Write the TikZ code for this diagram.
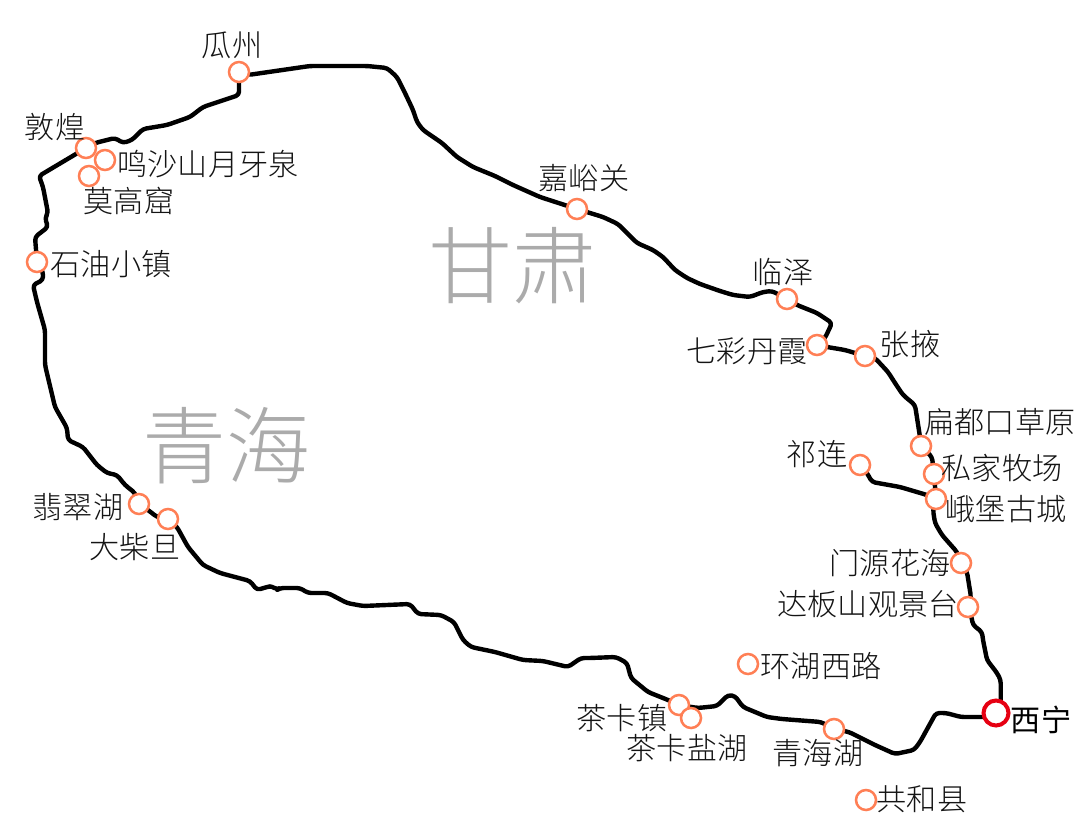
\documentclass[tikz,border=0pt]{standalone}
\usepackage{fontspec}
\usetikzlibrary{backgrounds}
\newfontfamily\cjk{Noto Sans CJK SC Light}
\newfontfamily\cjkb{Noto Sans CJK SC}
\definecolor{stopc}{HTML}{FF7F55}
\definecolor{cityc}{HTML}{E60012}
\definecolor{provc}{HTML}{ABABAB}
\tikzset{
  stopm/.style={circle,draw=stopc,fill=white,line width=1.9pt,minimum size=15pt,inner sep=0pt},
  citym/.style={circle,draw=cityc,fill=white,line width=3pt,minimum size=18.75pt,inner sep=0pt},
  lbl/.style={inner sep=0pt,text=black!92,font=\cjk\fontsize{22.6}{24}\selectfont},
  citylbl/.style={inner sep=0pt,text=black,font=\cjkb\fontsize{22.6}{24}\selectfont},
  prov/.style={inner sep=0pt,text=provc,font=\cjk\fontsize{63}{66}\selectfont},
  road/.style={draw=black,line width=3.3pt,line join=round,line cap=round,rounded corners=2.5pt}
}
\begin{document}
\begin{tikzpicture}[x=0.75pt,y=-0.75pt]
\useasboundingbox (0,0) rectangle (1077,838);
% stops
\node[stopm] (guazhou) at (239,72) {};
\node[stopm] (dunhuang) at (86,148) {};
\node[stopm] (mingsha) at (105,160) {};
\node[stopm] (mogao) at (89,176) {};
\node[stopm] (shiyou) at (37,262) {};
\node[stopm] (feicui) at (139,504) {};
\node[stopm] (dachaidan) at (168,519) {};
\node[stopm] (jiayu) at (577,209) {};
\node[stopm] (linze) at (787,299) {};
\node[stopm] (qicai) at (817,345) {};
\node[stopm] (zhangye) at (865,356) {};
\node[stopm] (biandu) at (921,446) {};
\node[stopm] (sijia) at (934,474) {};
\node[stopm] (ebao) at (936,499) {};
\node[stopm] (qilian) at (860,465) {};
\node[stopm] (menyuan) at (961,563) {};
\node[stopm] (daban) at (968,607) {};
\node[stopm] (huanhu) at (748,664) {};
\node[stopm] (chaka) at (679,705) {};
\node[stopm] (yanhu) at (691,718) {};
\node[stopm] (qinghaihu) at (834,729) {};
\node[stopm] (gonghe) at (866,800) {};
\node[citym] (xining) at (996,713) {};
% labels
\node[lbl] (lguazhou) at (232,45) {瓜州};
\node[lbl] (ldunhuang) at (55,127) {敦煌};
\node[lbl] (lmingsha) at (208,164) {鸣沙山月牙泉};
\node[lbl] (lmogao) at (129,201) {莫高窟};
\node[lbl] (lshiyou) at (111,264) {石油小镇};
\node[lbl] (lfeicui) at (78,507) {翡翠湖};
\node[lbl] (ldachaidan) at (135,547) {大柴旦};
\node[lbl] (ljiayu) at (584,178) {嘉峪关};
\node[lbl] (llinze) at (783,272) {临泽};
\node[lbl] (lqicai) at (747,351) {七彩丹霞};
\node[lbl] (lzhangye) at (910,344) {张掖};
\node[lbl] (lbiandu) at (1000,422) {扁都口草原};
\node[lbl] (lsijia) at (1002,468) {私家牧场};
\node[lbl] (lebao) at (1006,509) {峨堡古城};
\node[lbl] (lqilian) at (817,454) {祁连};
\node[lbl] (lmenyuan) at (890,563) {门源花海};
\node[lbl] (ldaban) at (868,604) {达板山观景台};
\node[lbl] (lhuanhu) at (821,666) {环湖西路};
\node[lbl] (lchaka) at (622,718) {茶卡镇};
\node[lbl] (lyanhu) at (687,748) {茶卡盐湖};
\node[lbl] (lqinghaihu) at (818,753) {青海湖};
\node[lbl] (lgonghe) at (922,799) {共和县};
\node[citylbl] (lxining) at (1041,720) {西宁};
\node[prov] (gansu) at (512,266) {甘肃};
\node[prov] (qinghai) at (226,446) {青海};
\begin{scope}[on background layer]
\fill[white] (0,0) rectangle (1077,838);
\path[road] (xining.center) -- (1000.7,703) -- (1000.7,680) -- (997,673) -- (987,660) -- (983,640) -- (982,632) -- (973,625) -- (971,615) -- (daban.center);
\path[road] (daban.center) -- (971,597) -- (967,572) -- (menyuan.center);
\path[road] (menyuan.center) -- (957,552) -- (942,535) -- (935,523) -- (933,510) -- (ebao.center);
\path[road] (ebao.center) -- (sijia.center);
\path[road] (sijia.center) -- (932,457) -- (biandu.center);
\path[road] (biandu.center) -- (920,437) -- (915,405) -- (903,395) -- (895,383) -- (888,372) -- (875,358) -- (zhangye.center);
\path[road] (zhangye.center) -- (845,350) -- (827,347) -- (qicai.center);
\path[road] (qicai.center) -- (825,338) -- (832,323) -- (817,313) -- (797,305) -- (linze.center);
\path[road] (qilian.center) -- (867,473) -- (872,482) -- (900,487) -- (927,495) -- (ebao.center);
\path[road] (linze.center) -- (772,291) -- (763,292) -- (750,297) -- (733,295) -- (720,291) -- (700,284) -- (687,278) -- (675,270) -- (663,257) -- (653,250) -- (637,243) -- (618,224) -- (603,217) -- (jiayu.center);
\path[road] (jiayu.center) -- (540,197) -- (513,185) -- (495,176) -- (473,167) -- (457,157) -- (442,143) -- (423,130) -- (417,122) -- (413,110) -- (405,93) -- (397,77) -- (387,68) -- (367,66) -- (310,66) -- (248,75) -- (guazhou.center);
\path[road] (guazhou.center) -- (239,95) -- (203,107) -- (190,117) -- (167,125) -- (143,129) -- (132,140) -- (123,143) -- (115,138) -- (95,143) -- (dunhuang.center);
\path[road] (dunhuang.center) -- (39,176) -- (43,187) -- (48,213) -- (45,218) -- (48,227) -- (35,237) -- (shiyou.center);
\path[road] (shiyou.center) -- (43,272) -- (43,280) -- (33,285) -- (37,302) -- (45,330) -- (45,365) -- (55,407) -- (67,428) -- (68,440) -- (83,447) -- (97,465) -- (107,473) -- (117,475) -- (125,485) -- (135,493) -- (feicui.center);
\path[road] (feicui.center) -- (148,510) -- (157,517) -- (dachaidan.center);
\path[road] (dachaidan.center) -- (177,527) -- (188,547) -- (203,565) -- (220,573) -- (250,581) -- (257,590) -- (267,587) -- (272,586) -- (277,590) -- (280,588) -- (300,588) -- (308,593) -- (328,593) -- (347,603) -- (363,606) -- (410,604) -- (418,614) -- (441,615) -- (454,622) -- (463,640) -- (471,647) -- (495,652) -- (523,660) -- (543,661) -- (568,667) -- (581,658) -- (590,658) -- (616,657) -- (627,663) -- (631,678) -- (648,692) -- (668,700) -- (chaka.center);
\path[road] (chaka.center) -- (698,708) -- (717,706) -- (728,695) -- (735,696) -- (743,707) -- (767,717) -- (782,719) -- (821,722) -- (qinghaihu.center);
\path[road] (qinghaihu.center) -- (849,732) -- (875,745) -- (895,754) -- (914,750) -- (920,742) -- (936,713) -- (946,713) -- (961,717) -- (985,717) -- (xining.center);
\end{scope}
\end{tikzpicture}
\end{document}
